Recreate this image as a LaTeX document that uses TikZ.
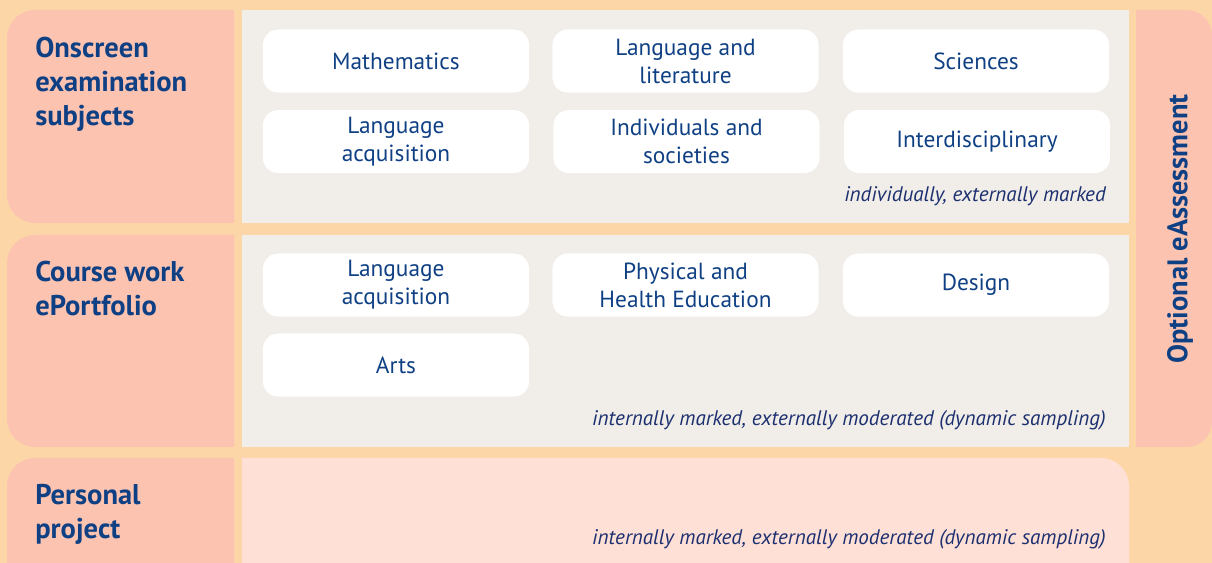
\documentclass[tikz,border=0pt]{standalone}
\usepackage{fontspec}
\setmainfont{PT Sans}
\usetikzlibrary{positioning}

\definecolor{peach}{RGB}{253,214,168}
\definecolor{salmon}{RGB}{251,195,176}
\definecolor{panelgrey}{RGB}{241,237,232}
\definecolor{panelpink}{RGB}{254,224,215}
\definecolor{ibblue}{RGB}{16,64,132}
\definecolor{ibnavy}{RGB}{28,48,112}

\tikzset{
  subject/.style={fill=white,rounded corners=0.38cm,minimum width=6.65cm,minimum height=1.575cm,
    align=center,text=ibblue,font=\fontsize{16.6}{19.9}\selectfont,inner sep=0pt},
  heading/.style={anchor=north west,align=left,text=ibblue,inner sep=0pt,
    font=\fontsize{20.3}{24.2}\selectfont\bfseries},
  marking/.style={anchor=base east,inner sep=0pt,text=ibnavy,font=\fontsize{15}{17}\selectfont\itshape}
}

\begin{document}
\begin{tikzpicture}[x=0.025cm,y=-0.025cm]
\useasboundingbox (0,0) rectangle (1212,563);
\clip (0,0) rectangle (1212,563);
\fill[peach] (0,0) rectangle (1212,563);

% left column
\fill[salmon] (234,10) [rounded corners=20] -- (7,10) -- (7,223) [sharp corners] -- (234,223) -- cycle;
\fill[salmon] (234,235) [rounded corners=20] -- (7,235) -- (7,447) [sharp corners] -- (234,447) -- cycle;
\fill[salmon] (234,458) [rounded corners=20] -- (7,458) [sharp corners] -- (7,580) -- (234,580) -- cycle;

% panels
\fill[panelgrey] (242,10) rectangle (1129,223);
\fill[panelgrey] (242,235) rectangle (1129,447);
\fill[panelpink] (242,580) -- (242,458) [rounded corners=20] -- (1129,458) [sharp corners] -- (1129,580) -- cycle;

% right bar
\fill[salmon] (1136,10) [rounded corners=18] -- (1212,10) -- (1212,447) [sharp corners] -- (1136,447) -- cycle;
\node[rotate=90,text=ibblue,font=\fontsize{20.2}{22}\selectfont\bfseries] (optional) at (1180,229) {Optional eAssessment};

% headings
\node[heading] (onscreen) at (35,37) {Onscreen\\examination\\subjects};
\node[heading] (coursework) at (35,261) {Course work\\ePortfolio};
\node[heading] (personal) at (35,484) {Personal\\project};

% onscreen subjects
\node[subject] (math) at (396,61) {Mathematics};
\node[subject] (langlit) at (685.5,61) {Language and\\literature};
\node[subject] (sci) at (976,61) {Sciences};
\node[subject] (langacq) at (396,141.5) {Language\\acquisition};
\node[subject] (indsoc) at (686.5,141.5) {Individuals and\\societies};
\node[subject] (inter) at (977,141.5) {Interdisciplinary};
\node[marking] (extmarked) at (1106,202) {individually, externally marked};

% eportfolio subjects
\node[subject] (langacqb) at (396,285) {Language\\acquisition};
\node[subject] (phe) at (685.5,285) {Physical and\\Health Education};
\node[subject] (design) at (976,285) {Design};
\node[subject] (arts) at (396,365) {Arts};
\node[marking] (intmarked) at (1106,426) {internally marked, externally moderated (dynamic sampling)};

% personal project
\node[marking] (ppmarked) at (1106,545) {internally marked, externally moderated (dynamic sampling)};
\end{tikzpicture}
\end{document}
